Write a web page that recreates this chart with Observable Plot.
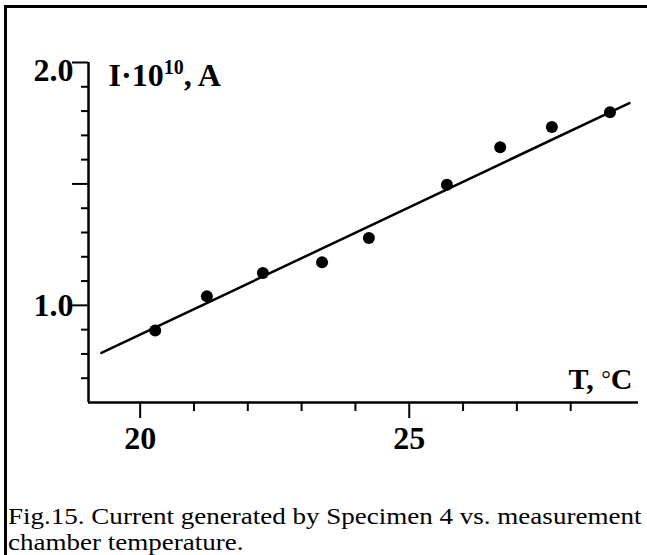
<!DOCTYPE html>
<html><head><meta charset="utf-8">
<script src="https://cdn.jsdelivr.net/npm/d3@7"></script>
<script src="https://cdn.jsdelivr.net/npm/@observablehq/plot@0.6"></script>
<style>
html,body{margin:0;padding:0;background:#fff;overflow:hidden;width:647px;height:555px;}
#frame{position:absolute;left:4px;top:5px;width:720px;height:640px;border:3px solid #000;box-sizing:border-box;}
#chart{position:absolute;left:0;top:0;}
#caption{position:absolute;left:8px;top:504px;font-family:"Liberation Serif",serif;font-size:23px;line-height:25.5px;white-space:nowrap;color:#000;transform:scaleX(1.175);transform-origin:0 0;}
</style></head><body>
<div id="frame"></div>
<div id="chart"></div>
<div id="caption">Fig.15. Current generated by Specimen 4 vs. measurement<br>chamber temperature.</div>
<script>
// Measured points: temperature (°C) and current (I·10^10, A)
const temperature = [20.28, 21.24, 22.28, 23.38, 24.25, 25.70, 26.69, 27.65, 28.73];
const current     = [0.896, 1.037, 1.133, 1.177, 1.277, 1.497, 1.651, 1.734, 1.795];
// Linear fit line end points
const fitT = [19.28, 29.09];
const fitI = [0.804, 1.833];
// Axis ticks
const xMajorTicks = [20, 25];
const xMinorTicks = [21, 22, 23, 24, 26, 27, 28];
const yMajorTicks = [1.0, 1.5, 2.0];
const yLowLabel = [1.0];
const yTopLabel = [2.0];
const yMinorTicks = [0.7, 0.8, 0.9, 1.1, 1.2, 1.3, 1.4, 1.6, 1.7, 1.8, 1.9];
const xDomain = [19.04, 29.26];
const yDomain = [0.6, 2.0];
const yTitle = ["I·10", "10", ", A"];
const xTitle = ["T, ", "°", "C"];

const points = temperature.map((t, i) => ({t, i: current[i]}));
const fit = fitT.map((t, i) => ({t, i: fitI[i]}));

const plot = Plot.plot({
  width: 647, height: 470,
  marginLeft: 88, marginRight: 9, marginTop: 62, marginBottom: 68,
  x: {domain: xDomain},
  y: {domain: yDomain},
  style: {fontFamily: "'Liberation Serif', serif", fontWeight: "bold", fontSize: "32px", color: "#000", background: "transparent", overflow: "visible"},
  marks: [
    Plot.axisX({ticks: xMinorTicks, tickSize: 9, strokeWidth: 2, tickFormat: () => "", label: null}),
    Plot.axisX({ticks: xMajorTicks, tickSize: 16, tickPadding: 8, strokeWidth: 2, tickFormat: d => String(d), label: null}),
    Plot.axisY({ticks: yMinorTicks, tickSize: 7, strokeWidth: 2, tickFormat: () => "", label: null}),
    Plot.axisY({ticks: yMajorTicks, tickSize: 16, strokeWidth: 2, tickFormat: () => "", label: null}),
    Plot.axisY({ticks: yLowLabel, tickSize: 0, tickPadding: 15, tickFormat: d => d.toFixed(1), label: null}),
    Plot.axisY({ticks: yTopLabel, tickSize: 0, tickPadding: 15, dy: 8, tickFormat: d => d.toFixed(1), label: null}),
    Plot.ruleX([xDomain[0]], {y1: yDomain[0], y2: yDomain[1], strokeWidth: 2.5}),
    Plot.ruleY([yDomain[0]], {strokeWidth: 2.5}),
    Plot.line(fit, {x: "t", y: "i", strokeWidth: 2.5, stroke: "#000"}),
    Plot.dot(points, {x: "t", y: "i", r: 6, fill: "#000", stroke: "none"}),
    Plot.text([yTitle[0]], {frameAnchor: "top-left", textAnchor: "start", dx: 20, dy: 1, fontSize: 32}),
    Plot.text([xTitle[0]], {frameAnchor: "bottom-right", textAnchor: "end", dx: -6, dy: -14, fontSize: 30})
  ]
});

// superscript exponent on the y title
d3.select(plot).selectAll("text").filter(function() { return this.textContent === yTitle[0]; })
  .each(function() {
    const t = d3.select(this);
    t.append("tspan").attr("dy", "-0.6em").attr("font-size", "20px").text(yTitle[1]);
    t.append("tspan").attr("dy", "0.38em").attr("font-size", "32px").text(yTitle[2]);
  });
// degree sign on the x title
d3.select(plot).selectAll("text").filter(function() { return this.textContent === xTitle[0]; })
  .each(function() {
    const t = d3.select(this);
    t.append("tspan").attr("font-size", "24px").attr("font-weight", "normal").attr("dy", "-0.05em").text(xTitle[1]);
    t.append("tspan").attr("font-size", "30px").attr("dy", "0.05em").text(xTitle[2]);
  });

document.getElementById("chart").appendChild(plot);
</script>
</body></html>
